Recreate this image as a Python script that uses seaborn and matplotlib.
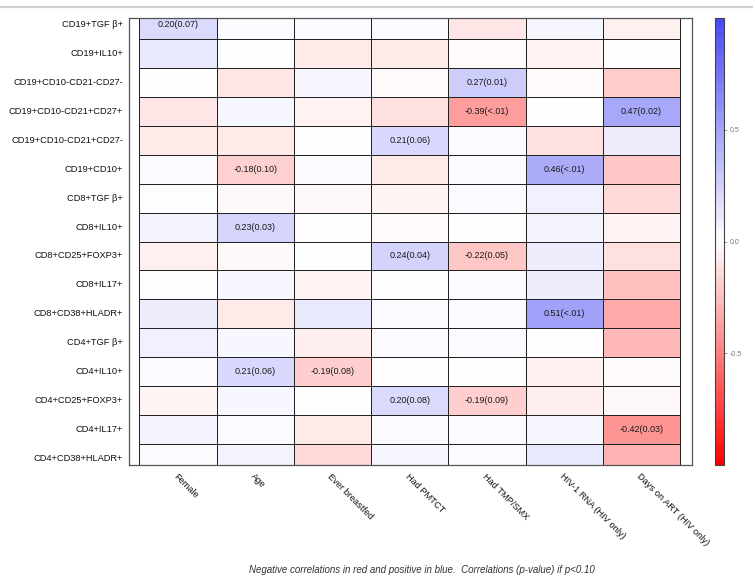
import numpy as np
import pandas as pd
import matplotlib
matplotlib.use("Agg")
import matplotlib.pyplot as plt
from matplotlib.colors import LinearSegmentedColormap
from matplotlib.lines import Line2D
import seaborn as sns

rows = ["CD19+TGF β+", "CD19+IL10+", "CD19+CD10-CD21-CD27-", "CD19+CD10-CD21+CD27+",
        "CD19+CD10-CD21+CD27-", "CD19+CD10+", "CD8+TGF β+", "CD8+IL10+",
        "CD8+CD25+FOXP3+", "CD8+IL17+", "CD8+CD38+HLADR+", "CD4+TGF β+",
        "CD4+IL10+", "CD4+CD25+FOXP3+", "CD4+IL17+", "CD4+CD38+HLADR+"]
cols = ["Female", "Age", "Ever breastfed", "Had PMTCT", "Had TMP/SMX",
        "HIV-1 RNA (HIV only)", "Days on ART (HIV only)"]

female = [0.20, 0.12, 0.00, -0.10, -0.08, 0.02, 0.01, 0.06, -0.06, 0.01, 0.10, 0.08, 0.02, -0.04, 0.06, 0.02]
age = [0.02, 0.00, -0.10, 0.05, -0.08, -0.18, -0.03, 0.23, -0.03, 0.04, -0.08, 0.04, 0.21, 0.04, 0.02, 0.07]
ever_bf = [0.03, -0.08, 0.05, -0.05, 0.00, 0.03, -0.03, 0.00, 0.00, -0.05, 0.12, -0.07, -0.19, 0.00, -0.08, -0.15]
had_pmtct = [0.03, -0.08, -0.02, -0.12, 0.21, -0.08, -0.04, -0.02, 0.24, 0.00, 0.02, 0.03, 0.01, 0.20, 0.03, 0.04]
had_tmp = [-0.10, -0.02, 0.27, -0.39, 0.02, 0.02, 0.02, 0.00, -0.22, 0.02, 0.02, 0.02, 0.00, -0.19, 0.02, 0.03]
hiv_rna = [0.05, -0.05, -0.02, 0.00, -0.12, 0.46, 0.08, 0.07, 0.10, 0.10, 0.51, 0.00, -0.06, -0.07, 0.05, 0.12]
days_art = [-0.06, 0.00, -0.20, 0.47, 0.10, -0.22, -0.15, -0.05, -0.12, -0.25, -0.33, -0.28, -0.02, -0.03, -0.42, -0.30]

# p-values shown only where p < 0.10 ('' = not shown)
p_female = ["0.07", "", "", "", "", "", "", "", "", "", "", "", "", "", "", ""]
p_age = ["", "", "", "", "", "0.10", "", "0.03", "", "", "", "", "0.06", "", "", ""]
p_ever_bf = ["", "", "", "", "", "", "", "", "", "", "", "", "0.08", "", "", ""]
p_had_pmtct = ["", "", "", "", "0.06", "", "", "", "0.04", "", "", "", "", "0.08", "", ""]
p_had_tmp = ["", "", "0.01", "<.01", "", "", "", "", "0.05", "", "", "", "", "0.09", "", ""]
p_hiv_rna = ["", "", "", "", "", "<.01", "", "", "", "", "<.01", "", "", "", "", ""]
p_days_art = ["", "", "", "0.02", "", "", "", "", "", "", "", "", "", "", "0.03", ""]

cbar_ticks = [-0.5, 0.0, 0.5]
caption = "Negative correlations in red and positive in blue.  Correlations (p-value) if p<0.10"

corr = pd.DataFrame(np.column_stack([female, age, ever_bf, had_pmtct, had_tmp, hiv_rna, days_art]),
                    index=rows, columns=cols)
pvals = np.column_stack([p_female, p_age, p_ever_bf, p_had_pmtct, p_had_tmp, p_hiv_rna, p_days_art])
labels = np.empty(corr.shape, dtype=object)
for i in range(corr.shape[0]):
    for j in range(corr.shape[1]):
        labels[i, j] = f"{corr.iat[i, j]:.2f}({pvals[i, j]})" if pvals[i, j] else ""

sns.set_theme(style="white")
plt.rcParams["font.family"] = ["Liberation Sans", "DejaVu Sans"]

cmap = LinearSegmentedColormap.from_list("rwb", ["#ff0000", "#ffffff", "#4848f4"])

W, H = 753, 581
fig = plt.figure(figsize=(W / 100, H / 100), dpi=100)
ax = fig.add_axes([128.7 / W, 1 - 465 / H, (691.7 - 128.7) / W, (465 - 18) / H])
cax = fig.add_axes([715 / W, 1 - 465 / H, 9 / W, (465 - 18) / H])

sns.heatmap(corr, ax=ax, cbar_ax=cax, cmap=cmap, vmin=-1, vmax=1,
            annot=labels, fmt="", annot_kws={"size": 6.5, "color": "#1a1a1a"},
            linewidths=0.7, linecolor="#222222",
            cbar_kws={"ticks": cbar_ticks})

ax.set_xlim(-0.137, 7.15)
ax.set_ylim(16 - 0.27, 0.27)
ax.set_xlabel("")
ax.set_ylabel("")
for s in ax.spines.values():
    s.set_visible(True)
    s.set_color("#555555")
    s.set_linewidth(0.9)

ax.tick_params(axis="both", length=0)
ax.tick_params(axis="y", pad=4, labelsize=6.7, labelcolor="#111111")
ax.tick_params(axis="x", pad=5, labelsize=6.7, labelcolor="#111111")
plt.setp(ax.get_yticklabels(), rotation=0)
plt.setp(ax.get_xticklabels(), rotation=-45, ha="left", va="top", rotation_mode="anchor")

cax.tick_params(axis="y", length=2.5, width=0.6, color="#888888", labelsize=5, labelcolor="#777777", pad=1.5)
cax.set_yticklabels(["-0.5", "0.0", "0.5"])
cb = ax.collections[0].colorbar
cb.outline.set_edgecolor("#444444")
cb.outline.set_linewidth(0.8)

fig.add_artist(Line2D([0, 1], [1 - 7 / H, 1 - 7 / H], color="#cfcfcf", lw=1.6, transform=fig.transFigure))
fig.text(422 / W, 1 - 570 / H, caption, ha="center", va="center", fontsize=7,
         style="italic", color="#333333")

fig.savefig("out.png", dpi=100)
